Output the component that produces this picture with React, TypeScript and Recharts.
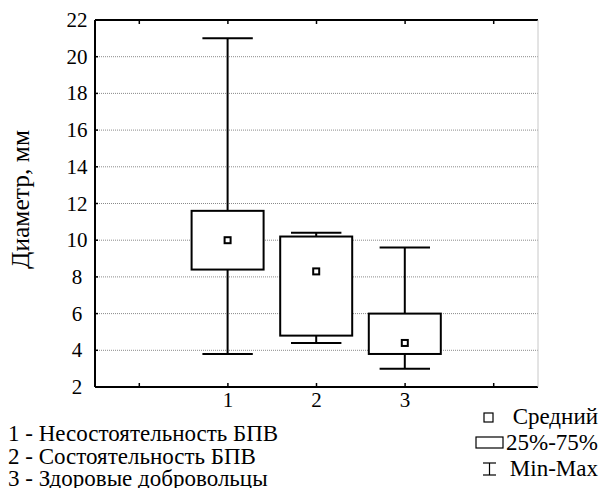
import { Bar, CartesianGrid, ComposedChart, XAxis, YAxis } from "recharts";

const categories = ["0", "1", "2", "3", "4"];
const tickLabels = ["", "1", "2", "3", ""];
const mins = [null, 3.8, 4.4, 3.0, null];
const q1s = [null, 8.4, 4.8, 3.8, null];
const means = [null, 10.0, 8.3, 4.4, null];
const q3s = [null, 11.6, 10.2, 6.0, null];
const maxs = [null, 21.0, 10.4, 9.6, null];
const yTicks = [2, 4, 6, 8, 10, 12, 14, 16, 18, 20, 22];
const groupNames = [
  "1 - Несостоятельность БПВ",
  "2 - Состоятельность БПВ",
  "3 - Здоровые добровольцы",
];
const legendNames = ["Средний", "25%-75%", "Min-Max"];

const data = categories.map((cat, i) => ({
  cat,
  min: mins[i],
  q1: q1s[i],
  mean: means[i],
  q3: q3s[i],
  max: maxs[i],
  range: mins[i] == null ? null : [mins[i], maxs[i]],
}));

const FONT = "'Liberation Serif', 'Times New Roman', serif";

function BoxShape(props: any) {
  const { x, y, width, height, payload } = props;
  if (!payload || payload.range == null) return null;
  const top = Math.min(y, y + height);
  const h = Math.abs(height);
  const { min, max, q1, q3, mean } = payload;
  const py = (v: number) => top + ((max - v) / (max - min)) * h;
  const cx = x + width / 2;
  const capW = width * 0.7;
  return (
    <g stroke="#000" strokeWidth={2} fill="none">
      <line x1={cx} x2={cx} y1={py(max)} y2={py(q3)} />
      <line x1={cx} x2={cx} y1={py(q1)} y2={py(min)} />
      <line x1={cx - capW / 2} x2={cx + capW / 2} y1={py(max)} y2={py(max)} />
      <line x1={cx - capW / 2} x2={cx + capW / 2} y1={py(min)} y2={py(min)} />
      <rect x={x} y={py(q3)} width={width} height={py(q1) - py(q3)} fill="#fff" />
      <rect x={cx - 3} y={py(mean) - 3} width={6} height={6} fill="#fff" />
    </g>
  );
}

function BottomTick(props: any) {
  const { x, y, index } = props;
  const label = tickLabels[index];
  return (
    <g>
      <line x1={x} x2={x} y1={y} y2={y - 4} stroke="#000" strokeWidth={1.5} />
      {label ? (
        <text x={x} y={y + 20} textAnchor="middle" fontFamily={FONT} fontSize={21} fill="#000">
          {label}
        </text>
      ) : null}
    </g>
  );
}

function TopTick(props: any) {
  const { x, y } = props;
  return <line x1={x} x2={x} y1={y} y2={y + 4} stroke="#000" strokeWidth={1.5} />;
}

function LeftTick(props: any) {
  const { x, y, payload } = props;
  return (
    <g>
      <line x1={x} x2={x + 3} y1={y} y2={y} stroke="#000" strokeWidth={1.5} />
      <text x={x - 18} y={y + 7} textAnchor="middle" fontFamily={FONT} fontSize={21} fill="#000">
        {payload.value}
      </text>
    </g>
  );
}

function RightTick(props: any) {
  const { x, y } = props;
  return <line x1={x} x2={x - 3} y1={y} y2={y} stroke="#000" strokeWidth={1.5} />;
}

export default function App() {
  return (
    <div style={{ position: "absolute", left: 0, top: 0, width: 602, height: 488, background: "#fff" }}>
      <ComposedChart
        width={602}
        height={488}
        data={data}
        margin={{ top: 0, right: 0, bottom: 0, left: 0 }}
      >
        <CartesianGrid vertical={false} stroke="#8a8a8a" strokeDasharray="1 1" />
        <XAxis
          dataKey="cat"
          height={101}
          interval={0}
          tickSize={0}
          tickMargin={0}
          stroke="#000"
          strokeWidth={2}
          tick={(p: any) => <BottomTick {...p} />}
        />
        <XAxis
          xAxisId="top"
          orientation="top"
          dataKey="cat"
          height={20}
          interval={0}
          tickSize={0}
          tickMargin={0}
          stroke="#000"
          strokeWidth={2}
          tick={(p: any) => <TopTick {...p} />}
        />
        <YAxis
          type="number"
          domain={[2, 22]}
          ticks={yTicks}
          interval={0}
          width={95}
          tickSize={0}
          tickMargin={0}
          stroke="#000"
          strokeWidth={2}
          tick={(p: any) => <LeftTick {...p} />}
          label={{
            value: "Диаметр, мм",
            angle: -90,
            position: "insideLeft",
            offset: 20,
            textAnchor: "middle",
            dy: -4,
            style: { fontFamily: FONT, fontSize: 25.5, fill: "#000" },
          }}
        />
        <YAxis
          yAxisId="right"
          orientation="right"
          type="number"
          domain={[2, 22]}
          ticks={yTicks}
          interval={0}
          width={64}
          tickSize={0}
          tickMargin={0}
          stroke="#c8c8c8"
          tick={(p: any) => <RightTick {...p} />}
        />
        <Bar
          dataKey="range"
          barSize={72}
          isAnimationActive={false}
          shape={(p: any) => <BoxShape {...p} />}
        />
      </ComposedChart>
      <svg
        width={602}
        height={488}
        style={{ position: "absolute", left: 0, top: 0, pointerEvents: "none" }}
        fontFamily={FONT}
        fontSize={23}
      >
        {groupNames.map((name, i) => (
          <text key={name} x={8} y={441 + i * 22.5} fill="#000" xmlSpace="preserve">
            {name}
          </text>
        ))}
        <rect x={484} y={413} width={9} height={9} fill="#fff" stroke="#000" strokeWidth={1.2} />
        <rect x={476} y={437} width={27} height={11} fill="#fff" stroke="#000" strokeWidth={1.2} />
        <g stroke="#000" strokeWidth={1.2}>
          <line x1={483} x2={496} y1={463} y2={463} />
          <line x1={483} x2={496} y1={475} y2={475} />
          <line x1={489.5} x2={489.5} y1={463} y2={475} />
        </g>
        <text x={598} y={424} textAnchor="end" fill="#000">{legendNames[0]}</text>
        <text x={598} y={450} textAnchor="end" fill="#000">{legendNames[1]}</text>
        <text x={598} y={476} textAnchor="end" fill="#000">{legendNames[2]}</text>
      </svg>
    </div>
  );
}
